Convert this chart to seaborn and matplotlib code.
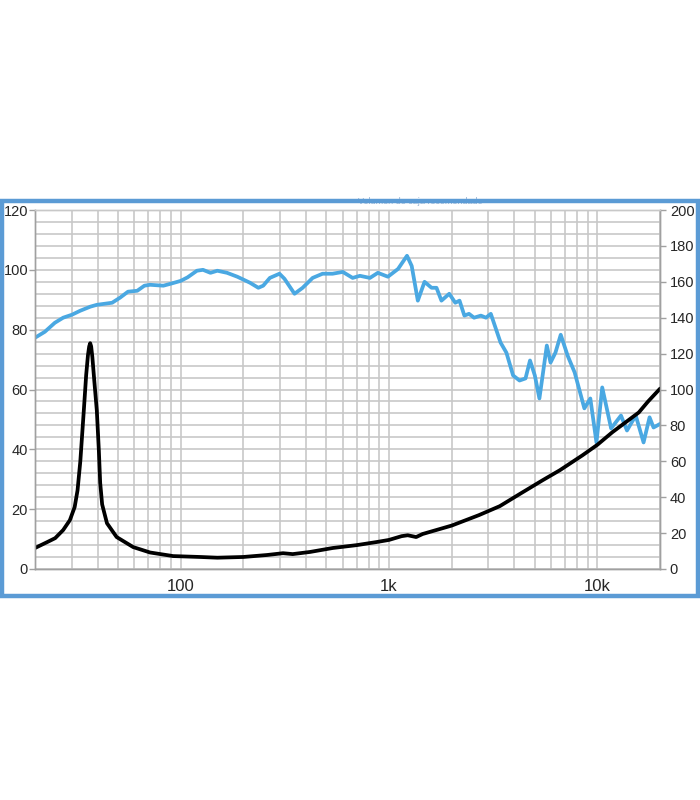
import pandas as pd
import matplotlib.pyplot as plt
from matplotlib.patches import Rectangle
from matplotlib.ticker import FixedLocator, MultipleLocator, NullFormatter
import seaborn as sns

# SPL response (left axis, dB)
spl_freq = [20, 22.3, 24.9, 27.3, 30.1, 32.9, 36.9, 39.6, 46.9, 51.2, 55.9, 61.9,
            67, 71.3, 82.6, 89, 100, 108, 119.7, 128, 139, 150, 167, 187, 215,
            236, 249, 268, 298, 315, 352, 385, 430, 480, 536, 600, 669, 725, 810,
            884, 988, 1105, 1220, 1285, 1375, 1481, 1600, 1690, 1785, 1946, 2080,
            2180, 2300, 2420, 2560, 2760, 2920, 3080, 3430, 3660, 3940, 4230, 4520,
            4750, 5010, 5270, 5720, 5960, 6290, 6670, 7200, 7780, 8660, 9250, 9900,
            10550, 11640, 12980, 13870, 15280, 16660, 17800, 18600, 20000]
spl_db = [77.3, 79.3, 82.3, 84, 85, 86.3, 87.7, 88.3, 89, 90.7, 92.7, 93,
          94.7, 95, 94.7, 95.3, 96.3, 97.5, 99.7, 100, 99, 99.7, 99, 97.7, 95.7,
          94, 94.7, 97.3, 98.7, 97, 92, 94, 97.3, 98.7, 98.7, 99.3, 97.3, 98, 97.3,
          99, 97.7, 100.3, 104.7, 101.3, 89.7, 96, 94, 94, 89.7, 92, 89,
          89.7, 84.7, 85.3, 84, 84.7, 84, 85.3, 75.7, 72.3, 64.7, 63, 63.7,
          69.7, 64.7, 57, 74.7, 69, 72.3, 78.3, 71.3, 65.7, 53.7, 57, 42.3,
          60.7, 47, 51.3, 46.3, 51.3, 42.3, 50.7, 47.3, 48.5]

# Impedance (right axis, ohm)
imp_freq = [20, 22.9, 25, 27.3, 29.4, 31, 32, 33, 34.3, 35.2, 35.9, 36.4, 36.8,
            37.2, 37.7, 38.5, 39.6, 40.5, 41.1, 42, 44.3, 49.3, 59.2, 71.3, 92,
            124, 150, 200, 260, 310, 345, 418, 537, 700, 870, 1000, 1150, 1230,
            1350, 1450, 2000, 2700, 3400, 4300, 5470, 6600, 8470, 10000, 11800,
            15800, 17500, 20000]
imp_ohm = [11.7, 15, 17.2, 21.7, 27.2, 34.5, 43.8, 60, 88.3, 108, 119, 124, 125.8,
           124, 118, 105, 88.3, 66, 48, 36, 25.5, 17.8, 12.2, 9.2, 7.2,
           6.7, 6.3, 6.7, 7.8, 8.8, 8.3, 9.5, 11.7, 13.3, 15, 16.2, 18.3, 18.8,
           17.8, 19.5, 24.2, 30, 35, 42.2, 49.5, 55, 63.3, 69.2, 76.2,
           87.2, 93.3, 100.5]

spl = pd.DataFrame({'freq': spl_freq, 'spl': spl_db})
imp = pd.DataFrame({'freq': imp_freq, 'ohm': imp_ohm})

sns.set_style('white')
plt.rcParams['font.family'] = ['Liberation Sans', 'DejaVu Sans']

grid_col = '#c8c8c8'
text_col = '#262626'

fig = plt.figure(figsize=(7, 8), dpi=100)
ax = fig.add_axes([0.05, 0.28875, 0.893, 0.44875])
ax2 = ax.twinx()

sns.lineplot(data=spl, x='freq', y='spl', ax=ax, color='#4aa8e2', lw=2.7,
             sort=False, estimator=None)
sns.lineplot(data=imp, x='freq', y='ohm', ax=ax2, color='black', lw=2.7,
             sort=False, estimator=None)

ax.set_xscale('log')
ax.set_xlim(20, 20000)
ax.set_ylim(0, 120)
ax2.set_ylim(0, 200)

major_x = [100, 1000, 10000]
minor_x = [m * d for d in [10, 100, 1000, 10000] for m in range(2, 10)
           if 20 <= m * d <= 20000 and m * d not in major_x]
ax.xaxis.set_major_locator(FixedLocator(major_x))
ax.xaxis.set_minor_locator(FixedLocator(minor_x))
ax.xaxis.set_minor_formatter(NullFormatter())
ax.set_xticklabels(['100', '1k', '10k'])
ax.yaxis.set_major_locator(MultipleLocator(20))
ax.yaxis.set_minor_locator(MultipleLocator(4))
ax2.yaxis.set_major_locator(MultipleLocator(20))

ax.grid(True, which='both', color=grid_col, lw=1.2)
ax2.grid(False)
ax.set_axisbelow(True)

ax.tick_params(axis='x', which='major', labelsize=12, length=0, pad=7, colors=text_col)
ax.tick_params(axis='x', which='minor', length=0)
ax.tick_params(axis='y', which='major', labelsize=10.5, length=4, width=1,
               color='#a0a0a0', labelcolor=text_col, pad=1)
ax.tick_params(axis='y', which='minor', length=0)
ax2.tick_params(axis='y', labelsize=10.5, length=4, width=1, color='#a0a0a0',
                labelcolor=text_col, pad=3)

for a in (ax, ax2):
    for s in a.spines.values():
        s.set_color('#a0a0a0')
        s.set_linewidth(1)
    a.spines['top'].set_color(grid_col)
    a.set_xlabel('')
    a.set_ylabel('')

# faint title partly hidden behind the frame
fig.text(0.60, 0.748, 'Volumen de caja recomendado', fontsize=6.5,
         color='#9ab6d6', ha='center', va='center', zorder=0)

# blue frame around the chart
fig.patches.append(Rectangle((0.003, 0.2545), 0.994, 0.494, transform=fig.transFigure,
                             fill=False, edgecolor='#5b9bd5', lw=3.2, zorder=5))

fig.savefig('out.png', dpi=100)
